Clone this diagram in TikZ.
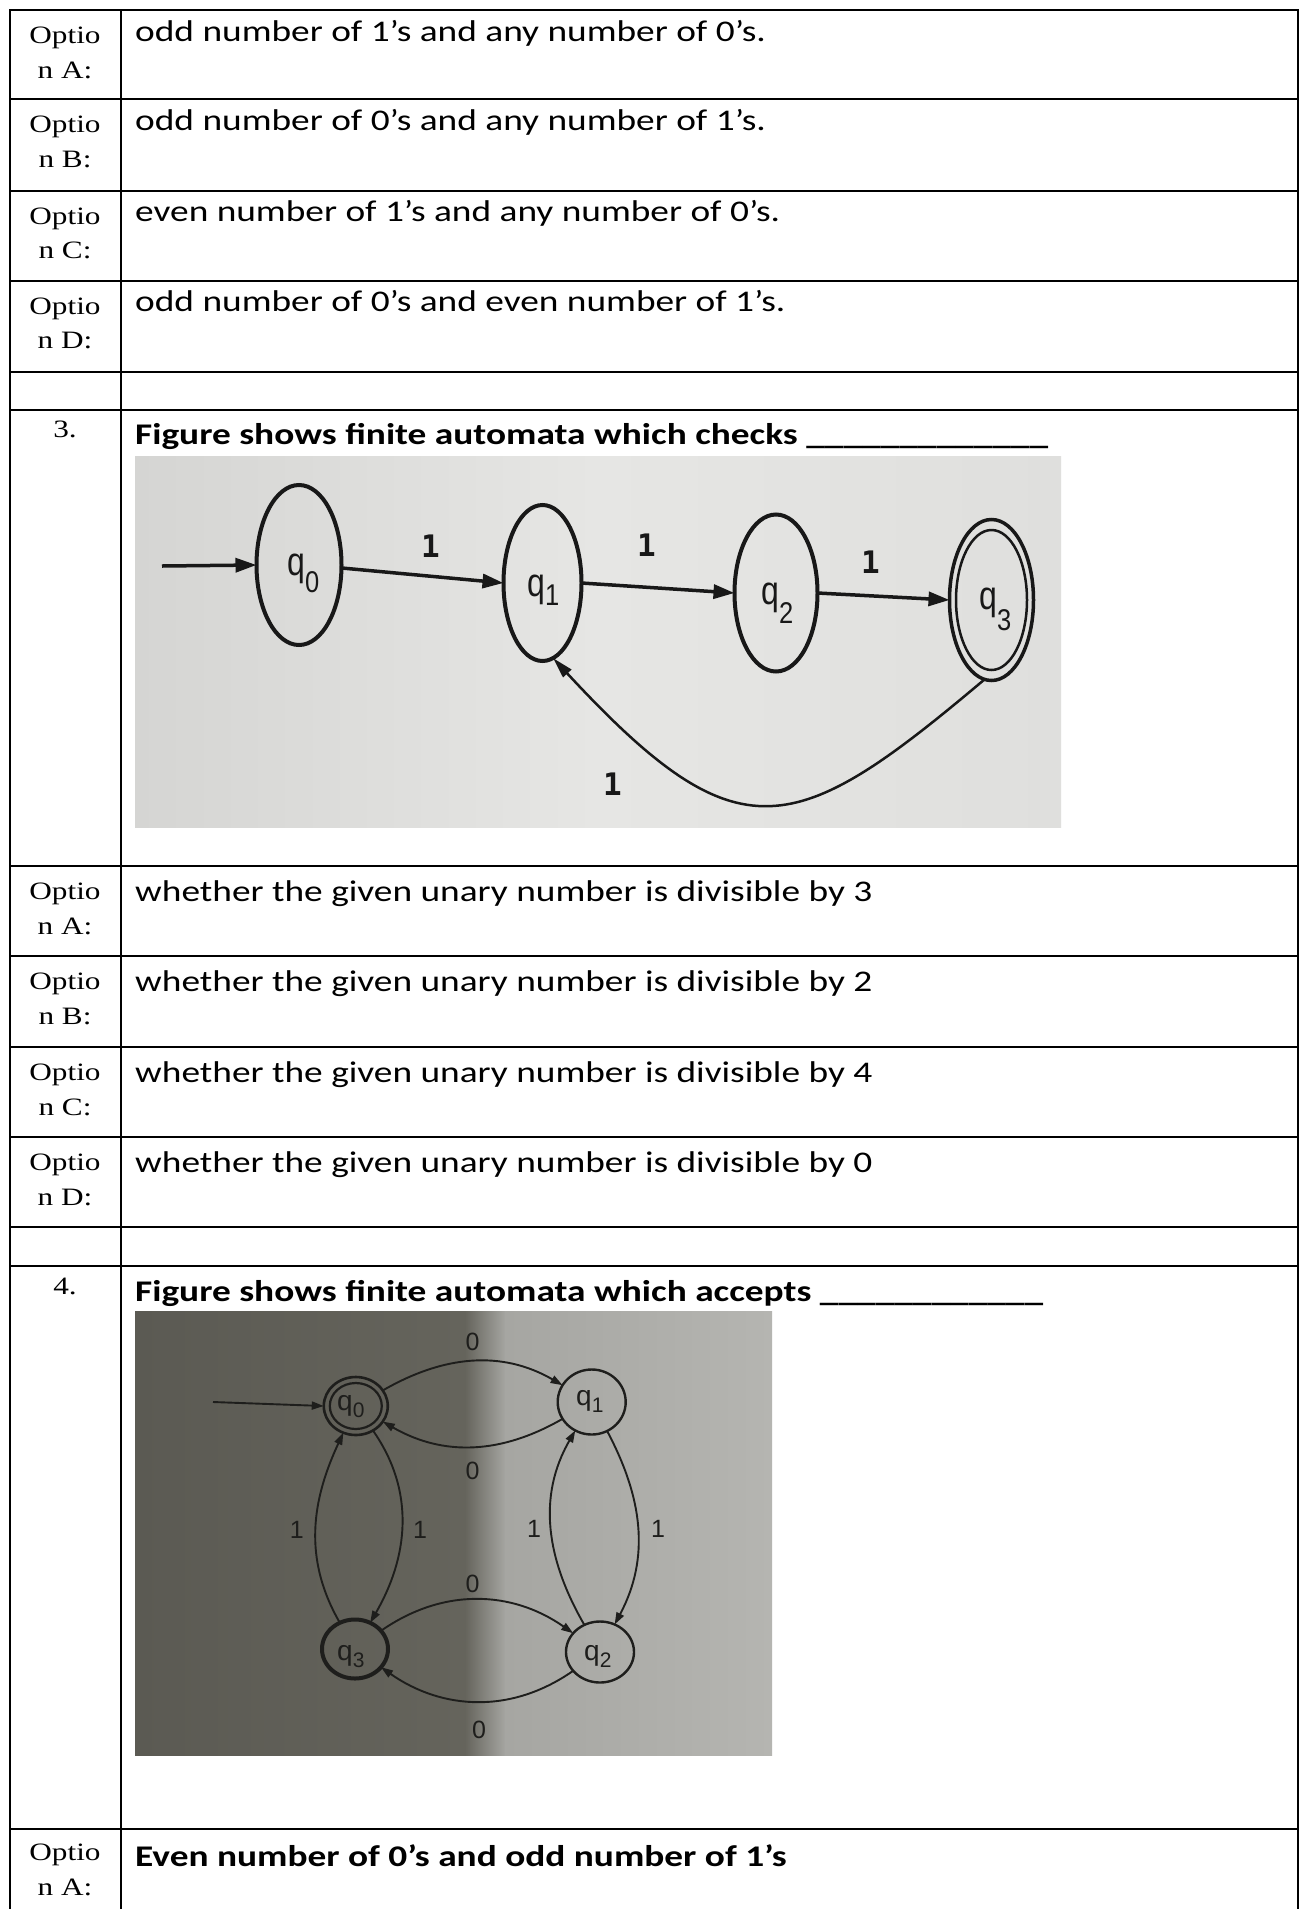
\documentclass[tikz,border=0pt]{standalone}
\usepackage{fontspec}
\usetikzlibrary{arrows.meta,shapes.geometric}
\newfontfamily\calfont[FakeStretch=1.245]{Carlito}
\newfontfamily\tnrfont[FakeStretch=1.25]{Liberation Serif}
\newfontfamily\hvfont{Liberation Sans}
\newfontfamily\hvnarrow[FakeStretch=0.8]{Liberation Sans}
\newfontfamily\hvsub[FakeStretch=0.85]{Liberation Sans}
\newfontfamily\dvmono{DejaVu Sans Mono}
\definecolor{inkone}{HTML}{181818}
\definecolor{inktwo}{HTML}{1E1E1C}
\definecolor{bgoneL}{HTML}{D5D5D3}
\definecolor{bgoneM}{HTML}{E6E6E4}
\definecolor{bgoneR}{HTML}{DFDFDD}
\definecolor{bgtwoA}{HTML}{5B5A53}
\definecolor{bgtwoB}{HTML}{65645C}
\definecolor{bgtwoC}{HTML}{A6A6A2}
\definecolor{bgtwoD}{HTML}{B5B5B1}
\begin{document}
\begin{tikzpicture}[x=1pt,y=1pt,
  tbl/.style={line width=2pt, draw=black, line cap=rect},
  optlab/.style={anchor=base, inner sep=0pt, font=\tnrfont\fontsize{25}{30}\selectfont},
  opttxt/.style={anchor=base west, inner sep=0pt, font=\calfont\fontsize{30}{36}\selectfont},
  ttltxt/.style={anchor=base west, inner sep=0pt, font=\calfont\bfseries\fontsize{30}{36}\selectfont},
  stone/.style={ellipse, draw=inkone, line width=4pt, inner sep=0pt, outer sep=0pt},
  qone/.style={anchor=base west, inner sep=0pt, text=inkone, font=\hvnarrow\fontsize{40}{40}\selectfont},
  lone/.style={inner sep=0pt, text=inkone, font=\dvmono\bfseries\fontsize{31}{31}\selectfont},
  eone/.style={draw=inkone, line width=3.5pt, -{Triangle[length=21pt,width=14pt]}},
  eoneb/.style={draw=inkone, line width=2.5pt, -{Triangle[length=21pt,width=11pt]}},
  sttwo/.style={ellipse, draw=inktwo, line width=2.4pt, inner sep=0pt, outer sep=0pt},
  qtwo/.style={anchor=base west, inner sep=0pt, text=inktwo, font=\hvfont\fontsize{28}{28}\selectfont},
  ltwo/.style={inner sep=0pt, text=inktwo, font=\hvfont\fontsize{25}{25}\selectfont},
  etwo/.style={draw=inktwo, line width=1.9pt, -{Triangle[length=12pt,width=8pt]}}
]
\useasboundingbox (0,0) rectangle (1306,-1909);
\fill[white] (0,0) rectangle (1306,-1909);

% ---------- table ----------
\draw[tbl] (9.5,-10) -- (1298,-10);
\foreach \yy in {99,190.5,280.5,371.5,410,866,956,1047,1137,1227,1266,1829}
  \draw[tbl] (9.5,-\yy) -- (1298,-\yy);
\draw[tbl] (9.5,-10) -- (9.5,-1909);
\draw[tbl] (120.5,-10) -- (120.5,-1909);
\draw[tbl] (1298,-10) -- (1298,-1909);

% ---------- question 2 options ----------
\node[optlab] (a1) at (65,-43.5) {Optio};
\node[optlab] (a2) at (65,-78) {n A:};
\node[opttxt] (ta) at (135,-41) {odd number of 1’s and any number of 0’s.};
\node[optlab] (b1) at (65,-132.5) {Optio};
\node[optlab] (b2) at (65,-167) {n B:};
\node[opttxt] (tb) at (135,-130) {odd number of 0’s and any number of 1’s.};
\node[optlab] (c1) at (65,-224) {Optio};
\node[optlab] (c2) at (65,-258.5) {n C:};
\node[opttxt] (tc) at (135,-221.5) {even number of 1’s and any number of 0’s.};
\node[optlab] (d1) at (65,-314) {Optio};
\node[optlab] (d2) at (65,-348.5) {n D:};
\node[opttxt] (td) at (135,-311.5) {odd number of 0’s and even number of 1’s.};

% ---------- question 3 ----------
\node[optlab] (n3) at (65,-437) {3.};
\node[ttltxt] (t3) at (135,-444) {Figure shows finite automata which checks \_\_\_\_\_\_\_\_\_\_\_\_\_};

\shade[left color=bgoneL, right color=bgoneR, middle color=bgoneM] (135,-456) rectangle (1061,-827);
\node[stone, minimum width=85pt, minimum height=160pt] (q0) at (299,-565) {};
\node[stone, minimum width=78pt, minimum height=156pt] (q1) at (542.5,-583) {};
\node[stone, minimum width=83pt, minimum height=157pt] (q2) at (776,-593) {};
\node[stone, line width=3.5pt, minimum width=84pt, minimum height=161pt] (q3) at (991.5,-600) {};
\node[stone, line width=2.5pt, minimum width=71pt, minimum height=140pt] (q3in) at (991.5,-600) {};
\node[qone] (lq0) at (287,-575) {q\raisebox{-17pt}{\hvsub\fontsize{30}{30}\selectfont 0}};
\node[qone] (lq1) at (527,-596) {q\raisebox{-9pt}{\hvsub\fontsize{30}{30}\selectfont 1}};
\node[qone] (lq2) at (761,-604) {q\raisebox{-19pt}{\hvsub\fontsize{30}{30}\selectfont 2}};
\node[qone] (lq3) at (979,-609) {q\raisebox{-21pt}{\hvsub\fontsize{30}{30}\selectfont 3}};
\coordinate (s1) at (162,-566);
\draw[eone] (s1) -- (q0.west);
\draw[eone] (q0.-4) -- (q1.west);
\draw[eone] (q1.east) -- (q2.west);
\draw[eone] (q2.east) -- (q3.west);
\draw[eoneb] (q3.-95) .. controls (794,-840) and (739,-859) .. (q1.-82);
\node[lone] (w01) at (430.5,-546) {1};
\node[lone] (w12) at (646.5,-545) {1};
\node[lone] (w23) at (870.5,-562) {1};
\node[lone] (w31) at (612.5,-784) {1};

% ---------- question 3 options ----------
\node[optlab] (e1) at (65,-899) {Optio};
\node[optlab] (e2) at (65,-934) {n A:};
\node[opttxt] (te) at (135,-901) {whether the given unary number is divisible by 3};
\node[optlab] (f1) at (65,-989) {Optio};
\node[optlab] (f2) at (65,-1024) {n B:};
\node[opttxt] (tf) at (135,-991) {whether the given unary number is divisible by 2};
\node[optlab] (g1) at (65,-1080) {Optio};
\node[optlab] (g2) at (65,-1115) {n C:};
\node[opttxt] (tg) at (135,-1082) {whether the given unary number is divisible by 4};
\node[optlab] (h1) at (65,-1170) {Optio};
\node[optlab] (h2) at (65,-1205) {n D:};
\node[opttxt] (th) at (135,-1172) {whether the given unary number is divisible by 0};

% ---------- question 4 ----------
\node[optlab] (n4) at (65,-1294) {4.};
\node[ttltxt] (t4) at (135,-1301) {Figure shows finite automata which accepts \_\_\_\_\_\_\_\_\_\_\_\_};

\shade[left color=bgtwoA, right color=bgtwoB] (135,-1311) rectangle (466,-1755);
\shade[left color=bgtwoB, right color=bgtwoC] (465,-1311) rectangle (506,-1755);
\shade[left color=bgtwoC, right color=bgtwoD] (505,-1311) rectangle (772,-1755);
\node[sttwo, line width=2.6pt, minimum width=64pt, minimum height=58pt] (p0) at (355.8,-1406) {};
\node[sttwo, line width=2.2pt, minimum width=52pt, minimum height=46pt] (p0in) at (355.8,-1406) {};
\node[sttwo, minimum width=68pt, minimum height=65pt] (p1) at (591.7,-1402) {};
\node[sttwo, minimum width=68pt, minimum height=61pt] (p2) at (600,-1652) {};
\node[sttwo, line width=4pt, minimum width=66pt, minimum height=59pt] (p3) at (355,-1649) {};
\node[qtwo] (lp0) at (337,-1410) {q\raisebox{-7pt}{\fontsize{21}{21}\selectfont 0}};
\node[qtwo] (lp1) at (576,-1405) {q\raisebox{-7pt}{\fontsize{21}{21}\selectfont 1}};
\node[qtwo] (lp2) at (584,-1660) {q\raisebox{-7pt}{\fontsize{21}{21}\selectfont 2}};
\node[qtwo] (lp3) at (337,-1660) {q\raisebox{-7pt}{\fontsize{21}{21}\selectfont 3}};
\coordinate (s2) at (213,-1402);
\draw[etwo] (s2) -- (p0.west);
\draw[etwo] (p0) to[out=30,in=150] (p1);
\draw[etwo] (p1) to[out=-150,in=-30] (p0);
\draw[etwo] (p3) to[out=35,in=145] (p2);
\draw[etwo] (p2) to[out=-145,in=-35] (p3);
\draw[etwo] (p0) to[out=-55,in=60] (p3);
\draw[etwo] (p3) to[out=120,in=-115] (p0);
\draw[etwo] (p1) to[out=-62,in=62] (p2);
\draw[etwo] (p2) to[out=120,in=-120] (p1);
\node[ltwo] (m01) at (472.5,-1342) {0};
\node[ltwo] (m10) at (472.5,-1471) {0};
\node[ltwo] (m32) at (472.5,-1584) {0};
\node[ltwo] (m23) at (479,-1730) {0};
\node[ltwo] (m30) at (296.7,-1530) {1};
\node[ltwo] (m03) at (420,-1530) {1};
\node[ltwo] (m21) at (534,-1529) {1};
\node[ltwo] (m12) at (658,-1529) {1};

% ---------- question 4 option A ----------
\node[optlab] (k1) at (65,-1860) {Optio};
\node[optlab] (k2) at (65,-1895) {n A:};
\node[ttltxt] (tk) at (135,-1866) {Even number of 0’s and odd number of 1’s};
\end{tikzpicture}
\end{document}
